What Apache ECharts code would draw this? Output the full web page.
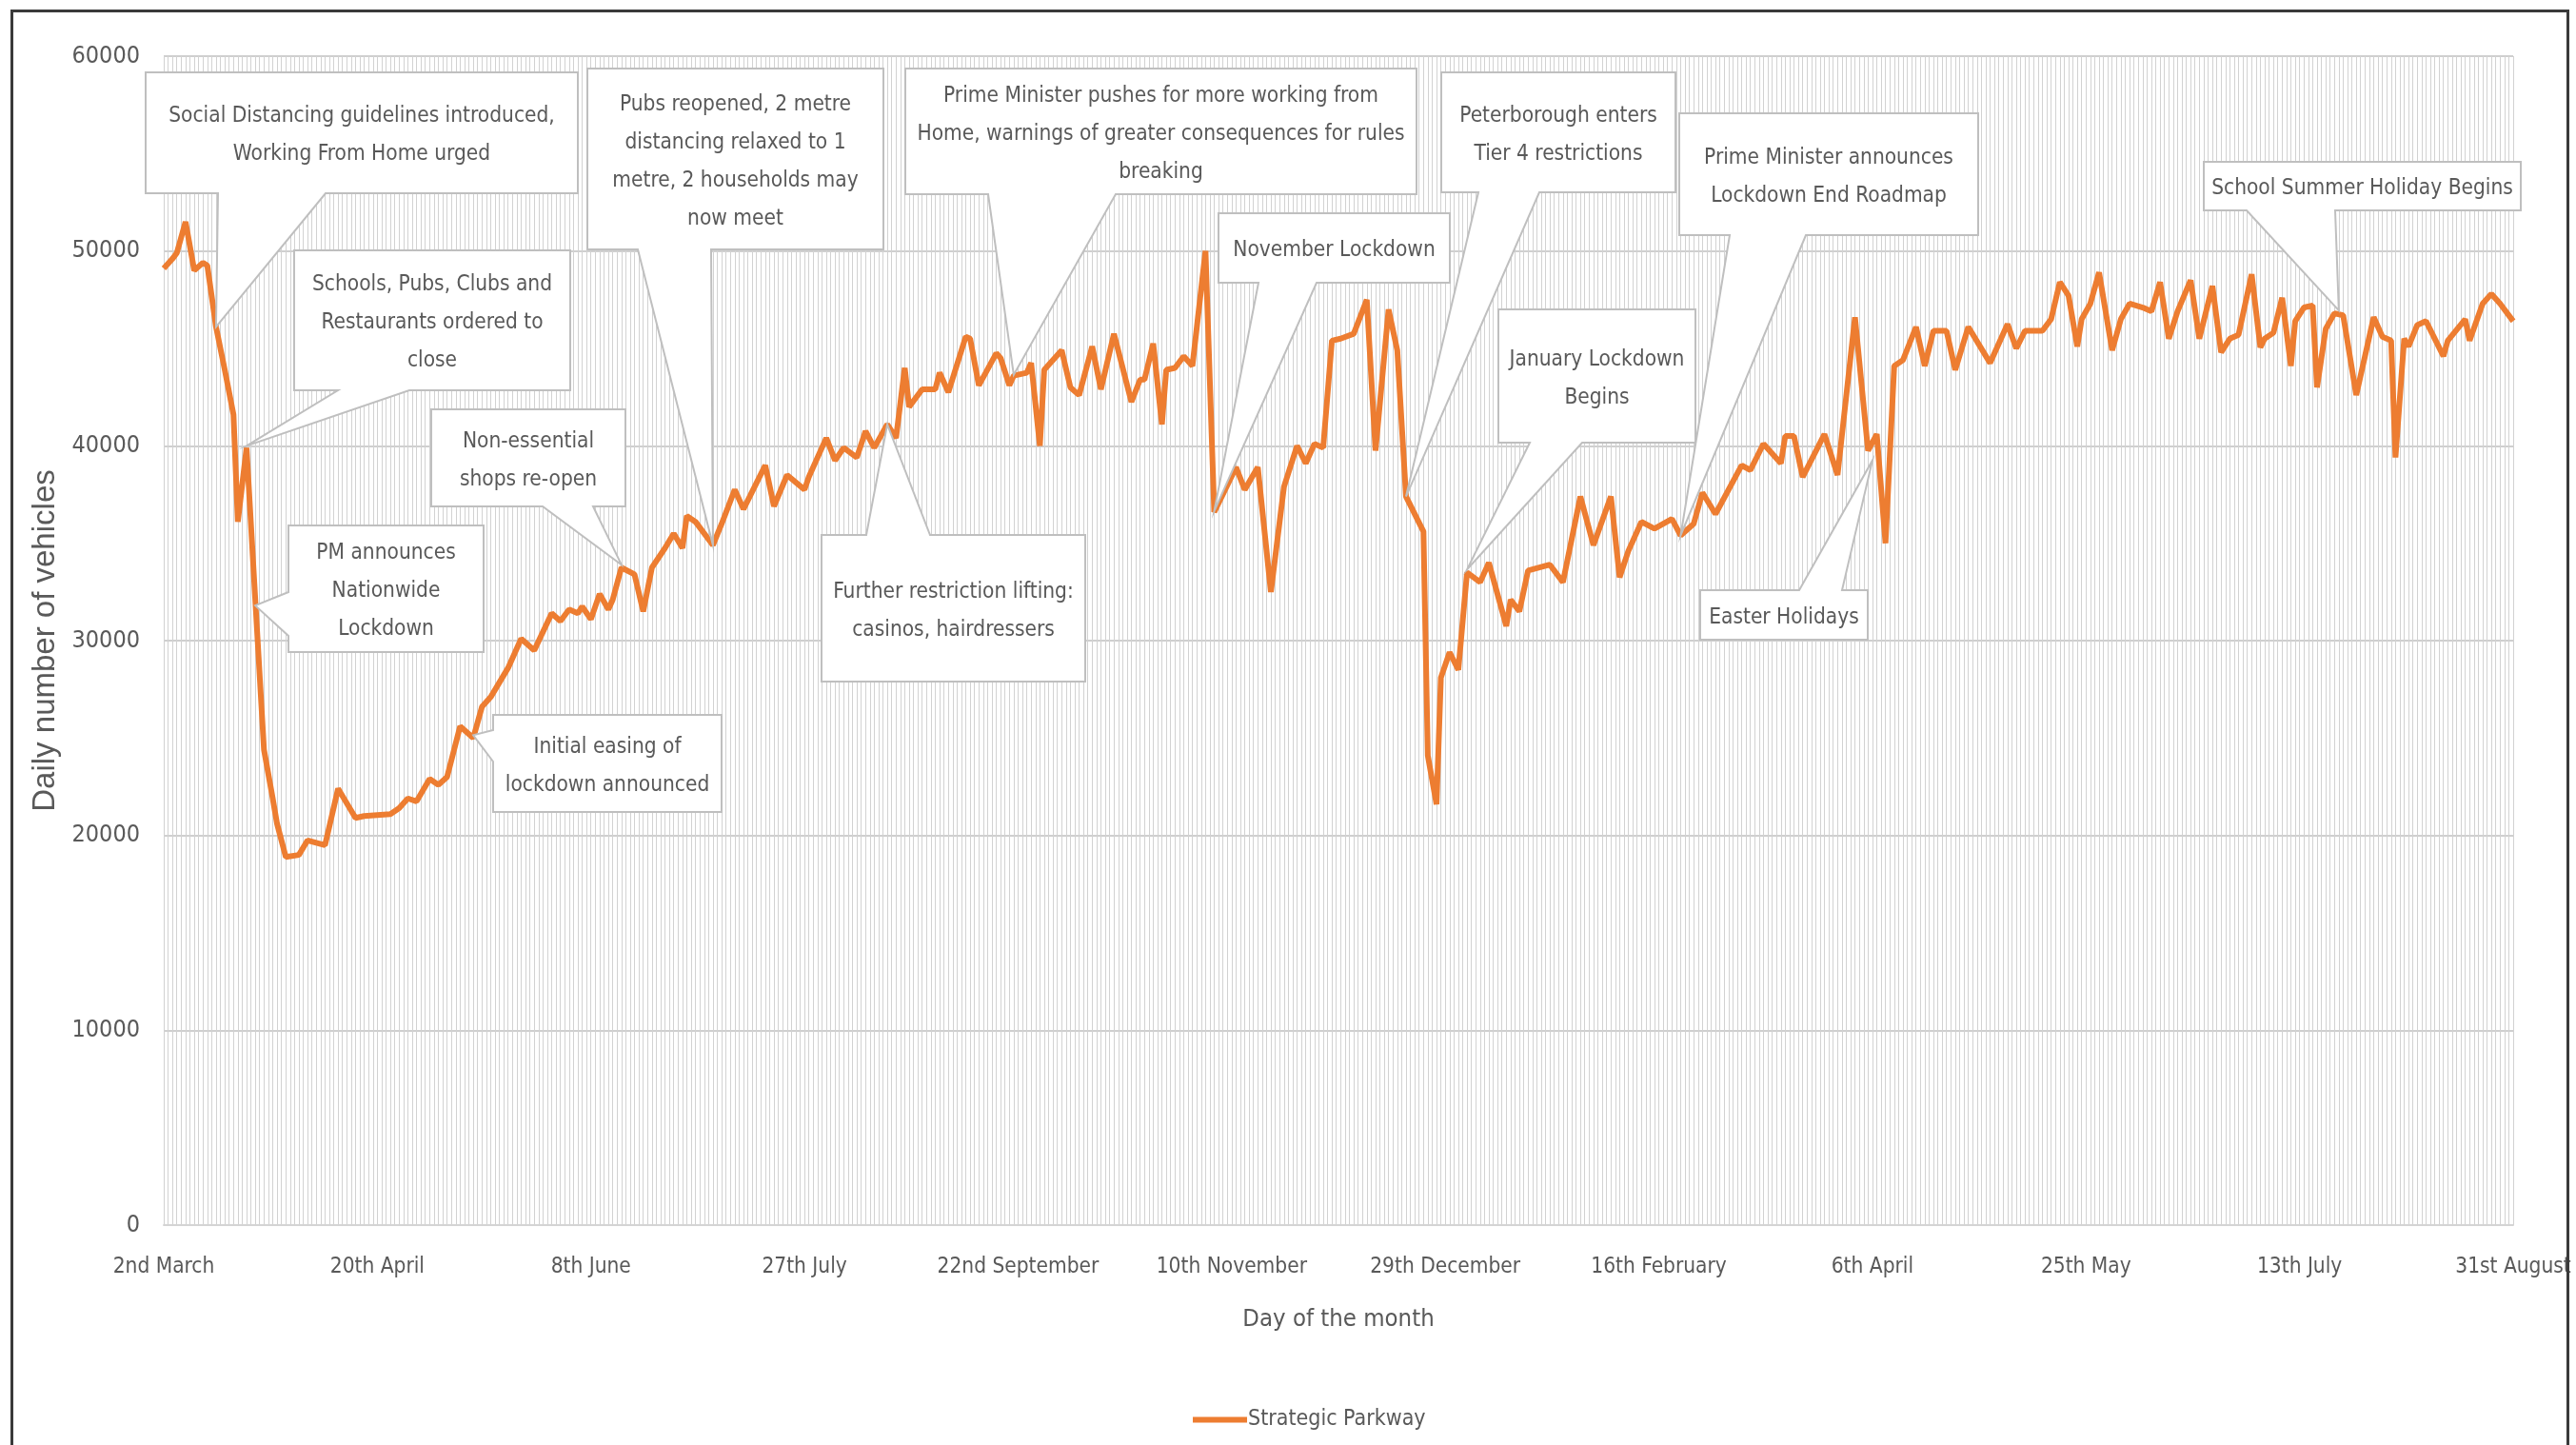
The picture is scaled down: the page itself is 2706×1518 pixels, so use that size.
<!DOCTYPE html>
<html><head><meta charset="utf-8">
<script src="https://cdn.jsdelivr.net/npm/echarts@6/dist/echarts.min.js"></script>
<style>html,body{margin:0;padding:0;background:#fff}#chart{width:2706px;height:1518px}</style>
</head><body><div id="chart"></div>
<script>
// ---------- DATA ----------
const dayCount = 540; // one category per day shown on the axis (2nd March 2020 – 31st August 2021)
const tickLabels = ['2nd March','20th April','8th June','27th July','22nd September','10th November',
  '29th December','16th February','6th April','25th May','13th July','31st August'];
const seriesName = 'Strategic Parkway';

const dayIndex = [0,2,3,5,7,9,10,12,14,16,17,19,21,23,25,26,28,31,33,37,40,44,46,52,54,56,58,61,63,65,68,71,73,75,79,82,85,89,91,93,95,96,98,100,102,103,105,108,110,112,115,117,119,120,122,126,128,131,133,138,140,143,147,148,152,154,156,159,161,163,166,168,170,171,174,177,178,180,184,185,187,191,192,194,195,198,199,201,202,206,208,210,213,215,218,222,224,225,227,229,230,232,234,236,239,241,246,248,251,254,257,260,262,264,266,268,270,273,276,278,281,283,285,289,290,292,293,295,297,299,302,304,308,309,311,313,318,321,325,328,332,334,336,339,342,346,348,351,353,356,362,364,367,371,372,374,376,381,384,388,391,393,395,397,399,402,404,406,409,411,414,419,423,425,427,431,433,435,437,439,440,442,444,447,449,451,454,456,458,460,462,465,467,470,472,474,476,479,481,482,484,486,488,489,491,493,494,496,498,500,503,507,509,511,512,514,515,517,519,523,524,528,529,532,534,536,539];
const vehicles = [49100,49600,49900,51500,49000,49400,49250,46100,43900,41600,36100,39900,32100,24400,21900,20600,18900,19000,19750,19500,22400,20900,21000,21100,21400,21900,21750,22900,22600,23000,25600,25000,26600,27100,28600,30100,29500,31400,31000,31600,31400,31750,31100,32400,31600,32100,33750,33400,31500,33750,34750,35500,34750,36400,36100,34900,36000,37750,36750,39000,36900,38500,37750,38400,40400,39250,39900,39400,40750,39900,41100,40400,44000,42000,42900,42900,43750,42750,45600,45500,43100,44750,44500,43100,43600,43750,44250,40000,43900,44900,43000,42600,45100,42900,45750,42250,43400,43400,45250,41100,43900,44000,44600,44100,50000,36600,38900,37750,38900,32500,37900,40000,39100,40100,39900,45400,45500,45750,47500,39750,47000,44900,37400,35600,24100,21600,28100,29400,28500,33500,33000,34000,30750,32100,31500,33600,33900,33000,37400,34900,37400,33250,34600,36100,35750,36250,35400,36000,37600,36500,39000,38750,40100,39100,40500,40500,38400,40600,38500,46600,39750,40600,35000,44100,44400,46100,44100,45900,45900,43900,46100,44250,46250,45000,45900,45900,46500,48400,47700,45100,46500,47300,48900,44900,46500,47300,47100,46900,48400,45500,46900,48500,45500,48200,44800,45500,45700,48800,45050,45500,45800,47600,44100,46400,47100,47200,43000,46000,46800,46700,42600,46600,45600,45400,39400,45500,45100,46200,46400,44600,45400,46500,45400,47300,47800,47300,46400];

const calloutText = [
  'Social Distancing guidelines introduced,\nWorking From Home urged',
  'Schools, Pubs, Clubs and\nRestaurants ordered to\nclose',
  'PM announces\nNationwide\nLockdown',
  'Non-essential\nshops re-open',
  'Initial easing of\nlockdown announced',
  'Pubs reopened, 2 metre\ndistancing relaxed to 1\nmetre, 2 households may\nnow meet',
  'Further restriction lifting:\ncasinos, hairdressers',
  'Prime Minister pushes for more working from\nHome, warnings of greater consequences for rules\nbreaking',
  'November Lockdown',
  'Peterborough enters\nTier 4 restrictions',
  'January Lockdown\nBegins',
  'Prime Minister announces\nLockdown End Roadmap',
  'Easter Holidays',
  'School Summer Holiday Begins'
];
// the point on the line each callout points at (day index, vehicles)
const calloutDay   = [12.3, 19.2, 21.0, 104.8, 71.0, 125.9, 166.3, 195.4, 240.9, 284.6, 299.2, 348.0, 391.7, 499.4];
const calloutValue = [46100, 40000, 31800, 33900, 25150, 34900, 41100, 43650, 36650, 37400, 33650, 35400, 39250, 46950];

// ---------- LAYOUT (pixels) ----------
const calloutBox = [
  [153, 76, 454, 127],
  [309, 263, 290, 147],
  [303, 552, 205, 133],
  [453, 430, 204, 102],
  [518, 751, 240, 102],
  [617, 72, 311, 190],
  [863, 562, 277, 154],
  [951, 72, 537, 132],
  [1280, 224, 243, 73],
  [1514, 76, 246, 126],
  [1574, 325, 207, 140],
  [1764, 119, 314, 128],
  [1786, 620, 176, 52],
  [2315, 170, 333, 51]
];
const calloutWedge = [
  ['bottom', 229, 342],
  ['bottom', 355, 430],
  ['left', 622, 668],
  ['bottom', 570, 623],
  ['left', 767, 800],
  ['bottom', 670, 747],
  ['top', 910, 977],
  ['bottom', 1038, 1172],
  ['bottom', 1322, 1383],
  ['bottom', 1553, 1617],
  ['bottom', 1607, 1662],
  ['bottom', 1817, 1897],
  ['top', 1890, 1935],
  ['bottom', 2360, 2453]
];

const NARROW = "'Liberation Sans Narrow','Arial Narrow','DejaVu Sans Condensed',sans-serif";
const TXT = '#595959';

const days = Array.from({length: dayCount}, (_, i) => i);
const lineData = dayIndex.map((d, i) => [d, vehicles[i]]);
const calloutData = calloutDay.map((d, i) => [d, calloutValue[i]]);

const chart = echarts.init(document.getElementById('chart'), null, {renderer: 'canvas'});
chart.setOption({
  animation: false,
  backgroundColor: '#ffffff',
  graphic: [{
    type: 'rect', left: 10, top: 9, z: 100, silent: true,
    shape: {width: 2685, height: 1530},
    style: {fill: 'none', stroke: '#3a3a3a', lineWidth: 3}
  }],
  grid: {left: 172, right: 66, top: 59, bottom: 231, containLabel: false},
  legend: {
    left: 1248, top: 1475, icon: 'rect', itemWidth: 57, itemHeight: 6, itemGap: 0,
    textStyle: {color: TXT, fontSize: 23, fontFamily: NARROW, padding: [0, 0, 0, -4]},
    data: [seriesName]
  },
  xAxis: {
    type: 'category', data: days, boundaryGap: false,
    name: 'Day of the month', nameLocation: 'middle', nameGap: 86,
    nameTextStyle: {color: TXT, fontSize: 25.5, fontFamily: NARROW},
    axisLine: {lineStyle: {color: '#d4d4d4', width: 2}},
    axisTick: {show: false},
    axisLabel: {
      interval: 48, margin: 33, color: TXT, fontSize: 22.5, fontFamily: NARROW,
      formatter: (v, idx) => tickLabels[Math.round(idx / 49)] || ''
    },
    splitLine: {show: true, interval: 0, lineStyle: {color: '#d2d2d2', width: 1}}
  },
  yAxis: {
    type: 'value', min: 0, max: 60000, interval: 10000,
    name: 'Daily number of vehicles', nameLocation: 'middle', nameGap: 98, nameRotate: 90,
    nameTextStyle: {color: TXT, fontSize: 33, fontFamily: "'Liberation Sans',Arial,sans-serif"},
    axisLine: {show: false}, axisTick: {show: false},
    axisLabel: {margin: 25, color: TXT, fontSize: 25, fontFamily: NARROW, formatter: v => String(v)},
    splitLine: {lineStyle: {color: '#cfcfcf', width: 2}}
  },
  series: [{
    name: seriesName, type: 'line', data: lineData, symbol: 'none', showSymbol: false,
    lineStyle: {color: '#ED7D31', width: 6}, itemStyle: {color: '#ED7D31'}, z: 3
  }, {
    type: 'custom', name: 'callouts', data: calloutData, z: 5, clip: false, silent: true,
    encode: {x: 0, y: 1},
    renderItem: function (params, api) {
      const i = params.dataIndex;
      const tip = api.coord([api.value(0), api.value(1)]);
      const [x, y, w, h] = calloutBox[i];
      const [side, a, b] = calloutWedge[i];
      const pts = [[x, y]];
      if (side === 'top') pts.push([a, y], tip, [b, y]);
      pts.push([x + w, y], [x + w, y + h]);
      if (side === 'bottom') pts.push([b, y + h], tip, [a, y + h]);
      pts.push([x, y + h]);
      if (side === 'left') pts.push([x, b], tip, [x, a]);
      return {
        type: 'group',
        children: [
          {type: 'polygon', shape: {points: pts}, style: {fill: '#ffffff', stroke: '#bfbfbf', lineWidth: 2}},
          {type: 'text', x: x + w / 2, y: y + h / 2 + 3,
           style: {text: calloutText[i], fill: TXT, fontSize: 22.5, fontFamily: NARROW,
                   align: 'center', verticalAlign: 'middle', lineHeight: 40}}
        ]
      };
    }
  }]
});
</script>
</body></html>
